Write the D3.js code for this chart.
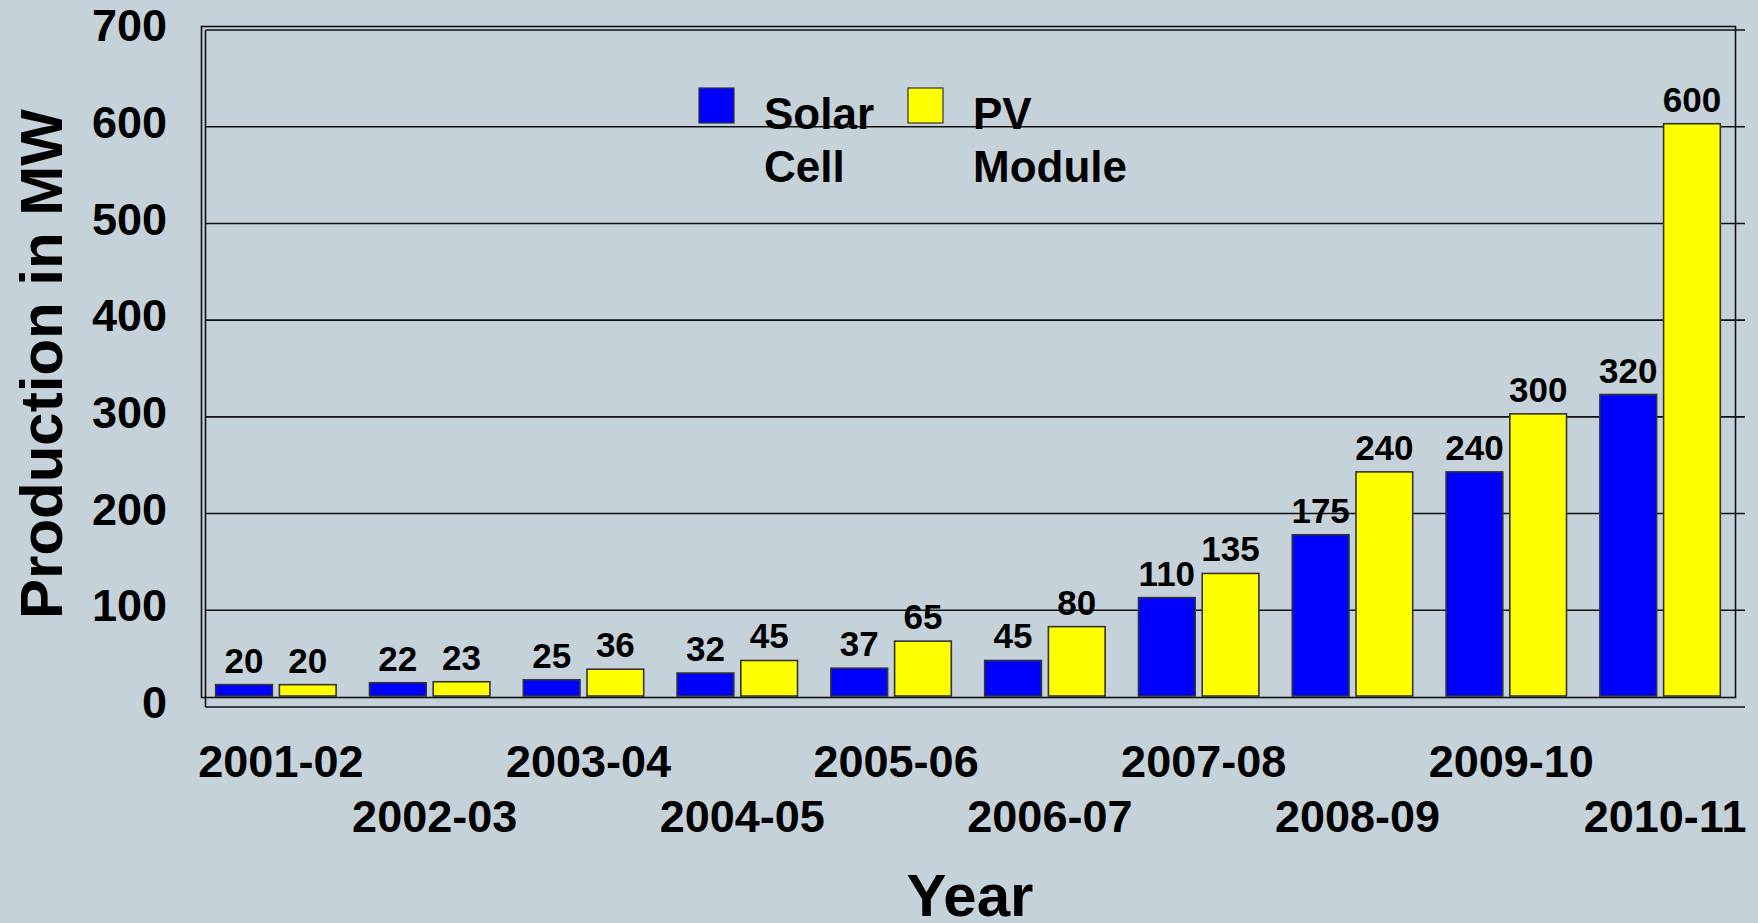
<!DOCTYPE html>
<html>
<head>
<meta charset="utf-8">
<script src="https://cdn.jsdelivr.net/npm/d3@7"></script>
<style>
  html, body { margin: 0; padding: 0; background: #c6d2d9; }
  svg { display: block; }
  text { font-family: "Liberation Sans", Arial, sans-serif; font-weight: bold; fill: #000; }
</style>
</head>
<body>
<svg id="chart"></svg>
<script>
const width = 1758;
const height = 923;

// data
const years = ["2001-02", "2002-03", "2003-04", "2004-05", "2005-06",
               "2006-07", "2007-08", "2008-09", "2009-10", "2010-11"];
const solarCell = [20, 22, 25, 32, 37, 45, 110, 175, 240, 320];
const pvModule = [20, 23, 36, 45, 65, 80, 135, 240, 300, 600];
const yTicks = [0, 100, 200, 300, 400, 500, 600, 700];
const seriesNames = ["Solar Cell", "PV Module"];
const seriesColors = ["#0000ff", "#ffff00"];

const svg = d3.select("#chart")
    .attr("width", width)
    .attr("height", height);

const y = d3.scaleLinear()
    .domain([0, 700])
    .range([707, 30]);

const x = d3.scaleBand()
    .domain(years)
    .range([199, 1737])
    .paddingInner(0.217)
    .paddingOuter(0.1085);

const xSub = d3.scaleBand()
    .domain([0, 1])
    .range([0, x.bandwidth()])
    .paddingInner(0.11);

const floorY = 696;
const lift = 3;

// back wall gridlines
svg.append("g")
    .selectAll("line")
    .data(yTicks)
    .join("line")
    .attr("x1", 205.5)
    .attr("x2", 1745)
    .attr("y1", d => y(d))
    .attr("y2", d => y(d))
    .attr("stroke", "#111")
    .attr("stroke-width", 1.6);

svg.append("line")
    .attr("x1", 205.5).attr("x2", 205.5)
    .attr("y1", y(700)).attr("y2", y(0))
    .attr("stroke", "#111")
    .attr("stroke-width", 1.6);

// front frame
svg.append("rect")
    .attr("x", 201.5)
    .attr("y", 26.5)
    .attr("width", 1534)
    .attr("height", 671)
    .attr("fill", "none")
    .attr("stroke", "#111")
    .attr("stroke-width", 1.6);

// y tick labels
svg.append("g")
    .selectAll("text")
    .data(yTicks)
    .join("text")
    .attr("x", 167)
    .attr("y", d => y(d) - 5)
    .attr("dy", "0.36em")
    .attr("text-anchor", "end")
    .attr("font-size", 45)
    .text(d => d);

// bars
const groups = svg.append("g")
    .selectAll("g")
    .data(years.map((yr, i) => ({ year: yr, values: [solarCell[i], pvModule[i]] })))
    .join("g")
    .attr("transform", d => `translate(${x(d.year)},0)`);

groups.selectAll("rect")
    .data(d => d.values)
    .join("rect")
    .attr("x", (d, i) => xSub(i))
    .attr("width", xSub.bandwidth())
    .attr("y", d => y(d) - lift)
    .attr("height", d => floorY - (y(d) - lift))
    .attr("fill", (d, i) => seriesColors[i])
    .attr("stroke", "#333")
    .attr("stroke-width", 1.6);

groups.selectAll("text")
    .data(d => d.values)
    .join("text")
    .attr("x", (d, i) => xSub(i) + xSub.bandwidth() / 2)
    .attr("y", d => y(d) - lift - 12)
    .attr("text-anchor", "middle")
    .attr("font-size", 35)
    .text(d => d);

// x labels, staggered in two rows
svg.append("g")
    .selectAll("text")
    .data(years)
    .join("text")
    .attr("x", d => x(d) + x.bandwidth() / 2 + 5)
    .attr("y", (d, i) => i % 2 === 0 ? 777 : 832)
    .attr("text-anchor", "middle")
    .attr("font-size", 45)
    .text(d => d);

// axis titles
svg.append("text")
    .attr("transform", "translate(62,364) rotate(-90)")
    .attr("text-anchor", "middle")
    .attr("font-size", 60)
    .text("Production in MW");

svg.append("text")
    .attr("x", 970)
    .attr("y", 916)
    .attr("text-anchor", "middle")
    .attr("font-size", 60)
    .text("Year");

// legend
const legendX = [699, 908];
const legend = svg.append("g")
    .selectAll("g")
    .data(seriesNames)
    .join("g")
    .attr("transform", (d, i) => `translate(${legendX[i]},88)`);

legend.append("rect")
    .attr("width", 35)
    .attr("height", 35)
    .attr("fill", (d, i) => seriesColors[i])
    .attr("stroke", "#333")
    .attr("stroke-width", 1.2);

legend.append("text")
    .attr("x", 65)
    .attr("y", 41)
    .attr("font-size", 44)
    .selectAll("tspan")
    .data(d => d.split(" "))
    .join("tspan")
    .attr("x", 65)
    .attr("dy", (d, i) => i === 0 ? 0 : 53)
    .text(d => d);
</script>
</body>
</html>
